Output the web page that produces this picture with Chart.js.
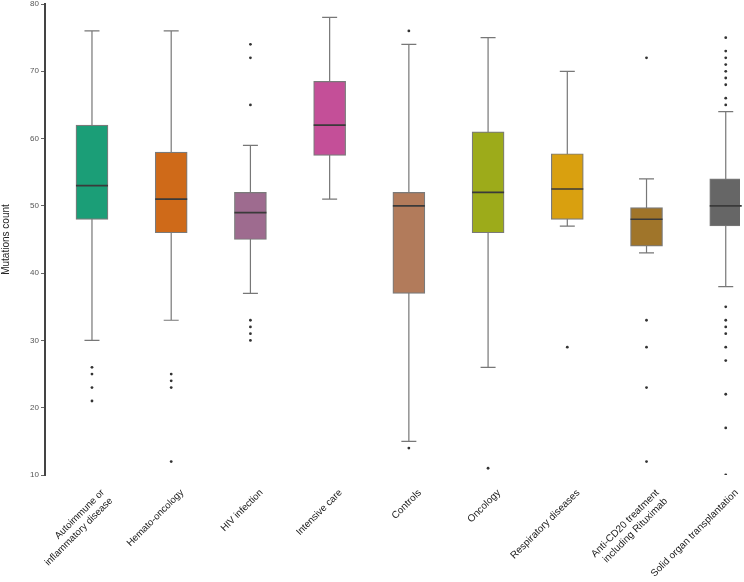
<!DOCTYPE html>
<html>
<head>
<meta charset="utf-8">
<script src="https://cdn.jsdelivr.net/npm/chart.js@4/dist/chart.umd.min.js"></script>
<style>
  html, body { margin: 0; padding: 0; background: #fff; }
  #wrap { width: 744px; height: 582px; }
</style>
</head>
<body>
<div id="wrap"><canvas id="myChart"></canvas></div>
<script>
// Datos
var categories = [
  ['Autoimmune or', 'inflammatory disease'],
  'Hemato-oncology',
  'HIV infection',
  'Intensive care',
  'Controls',
  'Oncology',
  'Respiratory diseases',
  ['Anti-CD20 treatment', 'including Rituximab'],
  'Solid organ transplantation'
];
var whiskerLow  = [30, 33, 37, 51, 15, 26, 47, 43, 38];
var q1          = [48, 46, 45, 57.5, 37, 46, 48, 44, 47];
var median      = [53, 51, 49, 62, 50, 52, 52.5, 48, 50];
var q3          = [62, 58, 52, 68.5, 52, 61, 57.75, 49.75, 54];
var whiskerHigh = [76, 76, 59, 78, 74, 75, 70, 54, 64];
var outliers = [
  [26, 25, 23, 21],
  [25, 24, 23, 12],
  [74, 72, 65, 33, 32, 31, 30],
  [],
  [76, 14],
  [11],
  [29],
  [72, 33, 29, 23, 12],
  [75, 73, 72, 71, 70, 69, 68, 66, 65, 35, 33, 32, 31, 29, 27, 22, 17, 10]
];
var yTicks = [10, 20, 30, 40, 50, 60, 70, 80];
var colors = ['#1b9e77', '#cf6a19', '#9e6b8f', '#c44f98', '#b27b5b',
              '#9dab1a', '#d9a00f', '#a0752a', '#666666'];

// Puntos atipicos
var outlierPoints = [];
outliers.forEach(function (list, i) {
  list.forEach(function (v) { outlierPoints.push({ x: i, y: v }); });
});

// Bigotes y medianas
var boxExtras = {
  id: 'boxExtras',
  beforeDatasetsDraw: function (chart) {
    var ctx = chart.ctx, xs = chart.scales.x, ys = chart.scales.y;
    ctx.save();
    ctx.strokeStyle = '#777';
    ctx.lineWidth = 1.2;
    categories.forEach(function (c, i) {
      var px = xs.getPixelForValue(i);
      var top = ys.getPixelForValue(whiskerHigh[i]);
      var bot = ys.getPixelForValue(whiskerLow[i]);
      ctx.beginPath();
      ctx.moveTo(px, top); ctx.lineTo(px, bot);
      ctx.moveTo(px - 7.5, top); ctx.lineTo(px + 7.5, top);
      ctx.moveTo(px - 7.5, bot); ctx.lineTo(px + 7.5, bot);
      ctx.stroke();
    });
    ctx.restore();
  },
  afterDatasetsDraw: function (chart) {
    var ctx = chart.ctx, xs = chart.scales.x, ys = chart.scales.y;
    var meta = chart.getDatasetMeta(0);
    ctx.save();
    ctx.strokeStyle = '#3a3a3a';
    ctx.lineWidth = 1.6;
    categories.forEach(function (c, i) {
      var bar = meta.data[i];
      var half = bar.width / 2;
      var px = xs.getPixelForValue(i);
      var py = ys.getPixelForValue(median[i]);
      ctx.beginPath();
      ctx.moveTo(px - half, py); ctx.lineTo(px + half, py);
      ctx.stroke();
    });
    ctx.restore();
  }
};

var ctx = document.getElementById('myChart').getContext('2d');
var chart = new Chart(ctx, {
  type: 'bar',
  data: {
    datasets: [{
      type: 'bar',
      data: categories.map(function (c, i) { return { x: i, y: [q1[i], q3[i]] }; }),
      backgroundColor: colors,
      borderColor: '#7a7a7a',
      borderWidth: 1.2,
      borderSkipped: false,
      barThickness: 32,
      grouped: false,
      order: 2
    }, {
      type: 'scatter',
      data: outlierPoints,
      pointRadius: 1.4,
      pointBackgroundColor: '#333',
      pointBorderWidth: 0,
      order: 1
    }]
  },
  options: {
    responsive: true,
    maintainAspectRatio: false,
    animation: false,
    layout: { padding: { top: 4, right: 0, left: 0, bottom: 0 } },
    plugins: { legend: { display: false }, tooltip: { enabled: false } },
    scales: {
      x: {
        type: 'linear',
        offset: false,
        bounds: 'data',
        min: -0.593,
        max: 8.18,
        grid: { display: false, offset: false },
        border: { display: false },
        afterBuildTicks: function (axis) {
          axis.ticks = categories.map(function (c, i) { return { value: i }; });
        },
        afterFit: function (axis) {
          axis.height = 107;
          axis.paddingLeft = 0;
          axis.paddingRight = 0;
        },
        ticks: {
          autoSkip: false,
          minRotation: 45,
          maxRotation: 45,
          padding: 4,
          labelOffset: 11,
          color: '#1a1a1a',
          font: function (c) {
            if (c.index >= 4) {
              return { family: "'Liberation Sans Narrow', 'Liberation Sans'", size: 10 };
            }
            return { family: 'Liberation Sans', size: 9.7 };
          },
          callback: function (value) { return categories[value]; }
        }
      },
      y: {
        min: 10,
        max: 80,
        afterBuildTicks: function (axis) {
          axis.ticks = yTicks.map(function (v) { return { value: v }; });
        },
        afterFit: function (axis) {
          axis.width = 45;
          axis.paddingTop = 0;
          axis.paddingBottom = 0;
        },
        grid: { drawOnChartArea: false, drawTicks: true, tickLength: 4, color: '#666' },
        border: { display: true, color: '#444', width: 2 },
        ticks: {
          color: '#555',
          padding: 2,
          font: { family: 'Liberation Sans', size: 8 }
        },
        title: {
          display: true,
          text: 'Mutations count',
          color: '#222',
          padding: 0,
          font: { family: 'Liberation Sans', size: 10 }
        }
      }
    }
  },
  plugins: [boxExtras]
});
</script>
</body>
</html>
